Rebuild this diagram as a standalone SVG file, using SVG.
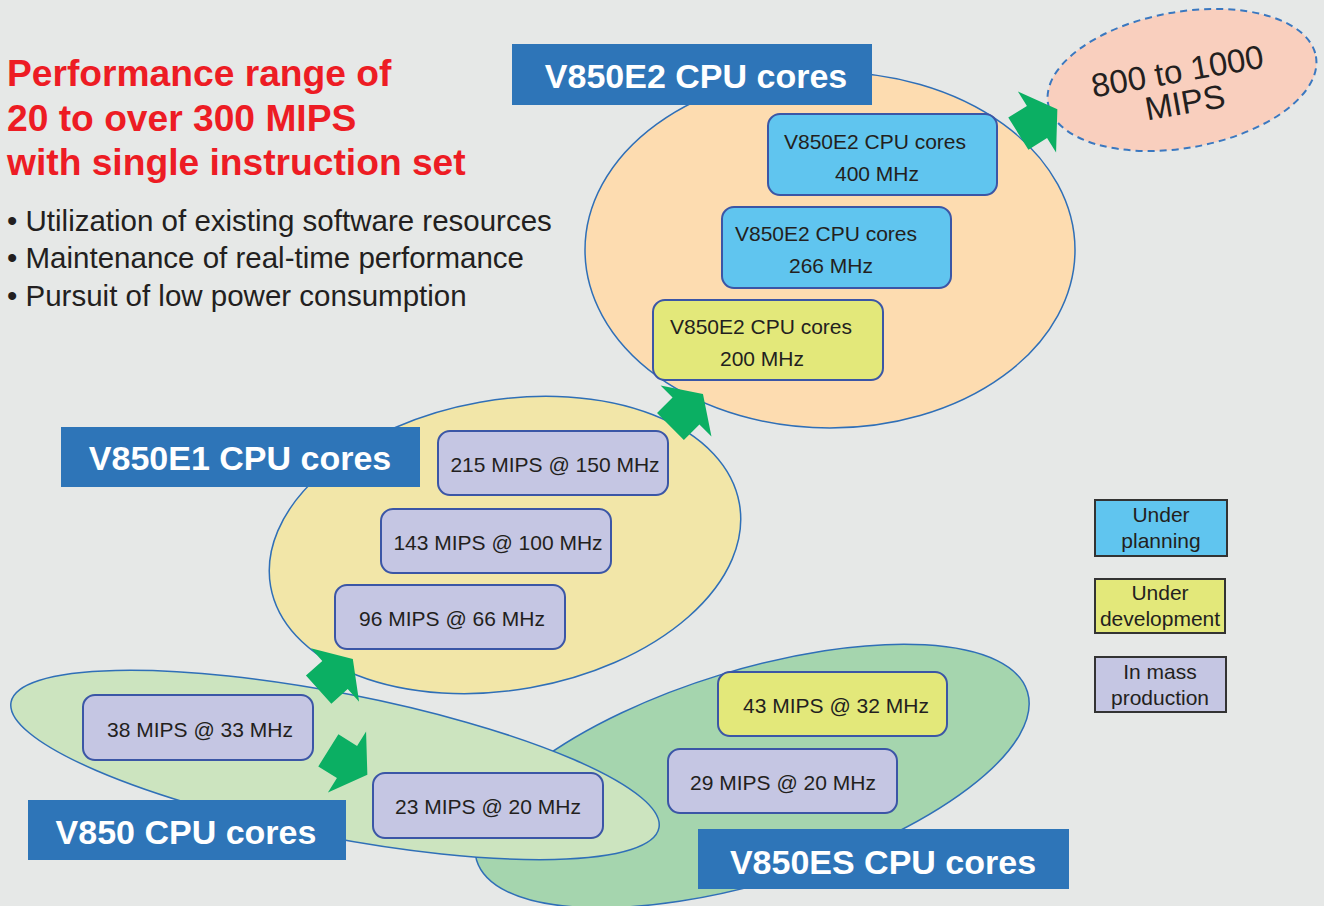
<svg xmlns="http://www.w3.org/2000/svg" width="1324" height="906" viewBox="0 0 1324 906">
<defs>
<style>
.bg{fill:#e6e8e7}
.ell{stroke:#2f6fb7;stroke-width:1.5}
.lbl{fill:#2e75b8}
.lbltxt{font-family:"Liberation Sans",Arial,sans-serif;font-weight:bold;font-size:34px;fill:#ffffff;text-anchor:middle}
.box{stroke:#3b56a6;stroke-width:2}
.blue{fill:#60c5ef}
.yel{fill:#e3e87a}
.lav{fill:#c5c6e3}
.t{font-family:"Liberation Sans",Arial,sans-serif;font-size:21px;fill:#231f20;text-anchor:middle}
.leg{stroke:#333333;stroke-width:2}
.arrow{fill:#0baf63}
.title{font-family:"Liberation Sans",Arial,sans-serif;font-weight:bold;font-size:37.2px;fill:#ed1c24}
.bul{font-family:"Liberation Sans",Arial,sans-serif;font-size:29.5px;fill:#231f20}
</style>
<polygon id="arr" points="-22,-19 0,-19 0,-36 24,0 0,36 0,19 -22,19"/>
</defs>
<rect class="bg" x="0" y="0" width="1324" height="906"/>

<g id="heading">
<text class="title" x="7" y="86">Performance range of</text>
<text class="title" x="7" y="131">20 to over 300 MIPS</text>
<text class="title" x="7" y="175">with single instruction set</text>
<text class="bul" x="7" y="231">• Utilization of existing software resources</text>
<text class="bul" x="7" y="268">• Maintenance of real-time performance</text>
<text class="bul" x="7" y="306">• Pursuit of low power consumption</text>
</g>

<g id="v850es">
<ellipse class="ell" cx="752" cy="776" rx="288" ry="106" transform="rotate(-17 752 776)" fill="#a5d5ae"/>
</g>
<g id="v850">
<ellipse class="ell" cx="335" cy="765" rx="330" ry="72" transform="rotate(11 335 765)" fill="#cce4bf"/>
</g>
<g id="v850e1">
<ellipse class="ell" cx="505" cy="545" rx="238" ry="145" transform="rotate(-10 505 545)" fill="#f2e6a8"/>
</g>
<g id="v850e2">
<ellipse class="ell" cx="830" cy="250" rx="245" ry="178" fill="#fddcb0"/>
</g>
<g id="mips1000">
<ellipse cx="1182" cy="80" rx="136" ry="68" transform="rotate(-10 1182 80)" fill="#f9cfbe" stroke="#3a78c0" stroke-width="2" stroke-dasharray="7,5"/>
<g transform="rotate(-10 1182 86)">
<text class="t" style="font-size:33px" x="1180" y="82">800 to 1000</text>
<text class="t" style="font-size:33px" x="1182" y="114">MIPS</text>
</g>
</g>

<g id="e2-400">
<rect class="box blue" x="768" y="114" width="229" height="81" rx="12"/>
<text class="t" x="875" y="149">V850E2 CPU cores</text>
<text class="t" x="877" y="181">400 MHz</text>
</g>
<g id="e2-266">
<rect class="box blue" x="722" y="207" width="229" height="81" rx="12"/>
<text class="t" x="826" y="241">V850E2 CPU cores</text>
<text class="t" x="831" y="273">266 MHz</text>
</g>
<g id="e2-200">
<rect class="box yel" x="653" y="300" width="230" height="80" rx="12"/>
<text class="t" x="761" y="334">V850E2 CPU cores</text>
<text class="t" x="762" y="366">200 MHz</text>
</g>

<g id="e1-215">
<rect class="box lav" x="438" y="431" width="230" height="64" rx="12"/>
<text class="t" x="555" y="472">215 MIPS @ 150 MHz</text>
</g>
<g id="e1-143">
<rect class="box lav" x="381" y="509" width="230" height="64" rx="12"/>
<text class="t" x="498" y="550">143 MIPS @ 100 MHz</text>
</g>
<g id="e1-96">
<rect class="box lav" x="335" y="585" width="230" height="64" rx="12"/>
<text class="t" x="452" y="626">96 MIPS @ 66 MHz</text>
</g>

<g id="v850-38">
<rect class="box lav" x="83" y="695" width="230" height="65" rx="12"/>
<text class="t" x="200" y="737">38 MIPS @ 33 MHz</text>
</g>
<g id="v850-23">
<rect class="box lav" x="373" y="773" width="230" height="65" rx="12"/>
<text class="t" x="488" y="814">23 MIPS @ 20 MHz</text>
</g>

<g id="es-43">
<rect class="box yel" x="718" y="672" width="229" height="64" rx="12"/>
<text class="t" x="836" y="713">43 MIPS @ 32 MHz</text>
</g>
<g id="es-29">
<rect class="box lav" x="668" y="749" width="229" height="64" rx="12"/>
<text class="t" x="783" y="790">29 MIPS @ 20 MHz</text>
</g>

<g id="connectors">
<use href="#arr" class="arrow" transform="translate(1037 122) rotate(-32)"/>
<use href="#arr" class="arrow" transform="translate(686 411) rotate(-45)"/>
<use href="#arr" class="arrow" transform="translate(335 675) rotate(-42)"/>
<use href="#arr" class="arrow" transform="translate(347 762) rotate(32)"/>
</g>

<g id="label-e2">
<rect class="lbl" x="512" y="44" width="360" height="61"/>
<text class="lbltxt" x="696" y="88">V850E2 CPU cores</text>
</g>
<g id="label-e1">
<rect class="lbl" x="61" y="427" width="359" height="60"/>
<text class="lbltxt" x="240" y="470">V850E1 CPU cores</text>
</g>
<g id="label-v850">
<rect class="lbl" x="28" y="800" width="318" height="60"/>
<text class="lbltxt" x="186" y="844">V850 CPU cores</text>
</g>
<g id="label-es">
<rect class="lbl" x="698" y="829" width="371" height="60"/>
<text class="lbltxt" x="883" y="874">V850ES CPU cores</text>
</g>

<g id="legend-planning">
<rect class="leg blue" x="1095" y="500" width="132" height="56"/>
<text class="t" x="1161" y="522">Under</text>
<text class="t" x="1161" y="548">planning</text>
</g>
<g id="legend-development">
<rect class="leg yel" x="1095" y="579" width="130" height="54"/>
<text class="t" x="1160" y="600">Under</text>
<text class="t" x="1160" y="626">development</text>
</g>
<g id="legend-production">
<rect class="leg lav" x="1095" y="657" width="131" height="55"/>
<text class="t" x="1160" y="679">In mass</text>
<text class="t" x="1160" y="705">production</text>
</g>
</svg>
